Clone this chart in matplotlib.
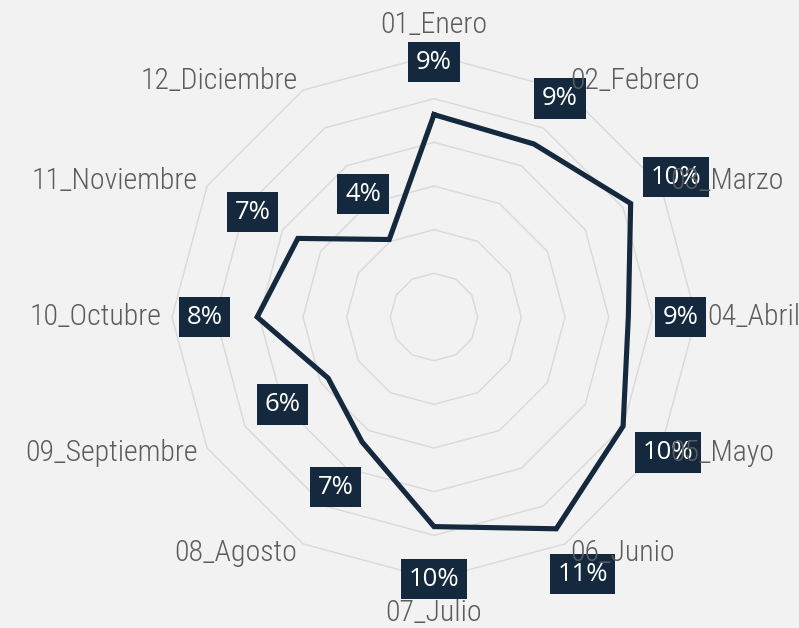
import numpy as np
import matplotlib
matplotlib.use("Agg")
import matplotlib.pyplot as plt

months = ["01_Enero", "02_Febrero", "03_Marzo", "04_Abril", "05_Mayo", "06_Junio",
          "07_Julio", "08_Agosto", "09_Septiembre", "10_Octubre", "11_Noviembre", "12_Diciembre"]
values = [9.27, 9.15, 10.4, 8.9, 10.0, 11.2, 9.6, 6.6, 5.6, 8.1, 7.2, 4.1]
grid_levels = [2, 4, 6, 8, 10, 12]

BG = "#f2f2f2"
NAVY = "#14293d"
GRID = "#d9d9d9"
TXT = "#5c5c5c"

fig = plt.figure(figsize=(7.99, 6.28), dpi=100, facecolor=BG)
ax = fig.add_axes([0.2153, 0.078, 0.6558, 0.8344], projection="polar")
ax.set_theta_zero_location("N")
ax.set_theta_direction(-1)
ax.set_ylim(0, 12)
ax.axis("off")

n = len(months)
theta = np.deg2rad(np.arange(n) * 360.0 / n)
theta_c = np.append(theta, theta[0])

for g in grid_levels:
    ax.plot(theta_c, [g] * (n + 1), color=GRID, lw=1.0, zorder=1, clip_on=False)

vals_c = values + [values[0]]
ax.plot(theta_c, vals_c, color=NAVY, lw=3.7, zorder=3, clip_on=False,
        solid_joinstyle="miter")

for t, v in zip(theta, values):
    ax.text(t, v + 2.4, f"{round(v)}%", ha="center", va="center", fontsize=18.5,
            color="white", family=["Open Sans", "DejaVu Sans"], zorder=4,
            bbox=dict(boxstyle="square,pad=0.3", fc=NAVY, ec="none"))

cat_font = ["Roboto Condensed", "Roboto", "DejaVu Sans"]
FS = 21.5
for i, (t, name) in enumerate(zip(theta, months)):
    deg = i * 30
    kw = dict(fontsize=FS, color=TXT, family=cat_font, weight="light", zorder=5)
    if deg == 0:
        ax.text(t, 13.0, name, ha="center", va="baseline", **kw)
    elif deg == 180:
        ax.text(t, 12.9, name, ha="center", va="top", **kw)
    elif deg < 180:
        ax.text(t, 12.5, name, ha="left", va="center", **kw)
    else:
        ax.text(t, 12.5, name, ha="right", va="center", **kw)

fig.savefig("out.png", dpi=100, facecolor=BG)
